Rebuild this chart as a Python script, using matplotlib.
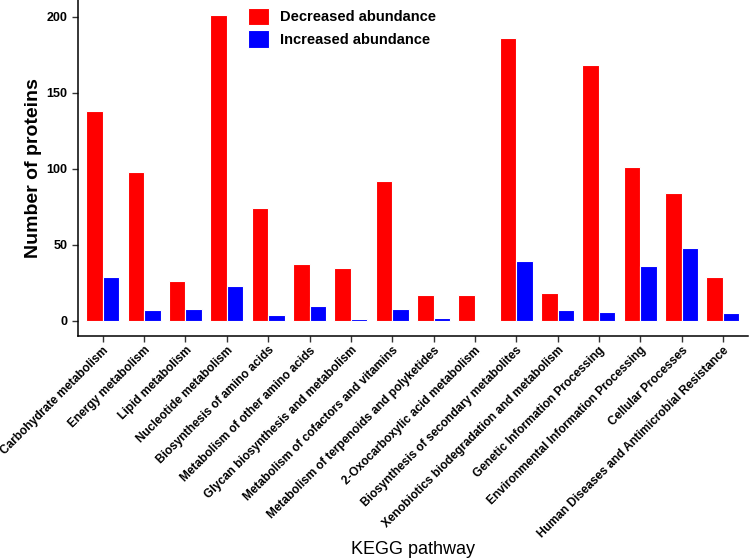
import matplotlib
matplotlib.use('Agg')
import matplotlib.pyplot as plt
import matplotlib.transforms as mtransforms
import numpy as np

plt.rcParams['font.family'] = ['Liberation Sans', 'DejaVu Sans']

# KEGG pathway categories
pathways = ['Carbohydrate metabolism', 'Energy metabolism', 'Lipid metabolism',
            'Nucleotide metabolism', 'Biosynthesis of amino acids',
            'Metabolism of other amino acids', 'Glycan biosynthesis and metabolism',
            'Metabolism of cofactors and vitamins',
            'Metabolism of terpenoids and polyketides',
            '2-Oxocarboxylic acid metabolism',
            'Biosynthesis of secondary metabolites',
            'Xenobiotics biodegradation and metabolism',
            'Genetic Information Processing',
            'Environmental Information Processing', 'Cellular Processes',
            'Human Diseases and Antimicrobial Resistance']
decreased = [138, 98, 26, 201, 74, 37, 35, 92, 17, 17, 186, 18, 168, 101, 84, 29]
increased = [29, 7, 8, 23, 4, 10, 1, 8, 2, 0, 39, 7, 6, 36, 48, 5]

fig = plt.figure(figsize=(7.5, 5.6), dpi=100)
ax = fig.add_axes([0.104, 0.4, 0.893, 0.6])

x = np.arange(len(pathways))
w = 0.4
ax.bar(x - w / 2, decreased, w, color='#ff0000', edgecolor='white',
       linewidth=0.8, label='Decreased abundance')
ax.bar(x + w / 2, increased, w, color='#0000ff', edgecolor='white',
       linewidth=0.8, label='Increased abundance')

ax.set_xlim(-0.6, len(pathways) - 0.4)
ax.set_ylim(-10.05, 211.05)
ax.set_yticks([0, 50, 100, 150, 200])
ax.set_xticks(x)
ax.set_xticklabels(pathways, rotation=45, ha='right', rotation_mode='anchor',
                   fontsize=8.6, fontweight='bold')
# nudge rotated labels a bit to the right, like ggplot's hjust/vjust
shift = mtransforms.ScaledTranslation(4 / 100, 0, fig.dpi_scale_trans)
for lab in ax.get_xticklabels():
    lab.set_transform(lab.get_transform() + shift)
for lab in ax.get_yticklabels():
    lab.set_fontweight('bold')
    lab.set_fontsize(9)
ax.tick_params(axis='both', direction='out', length=4, width=1, color='#333333')
ax.tick_params(axis='x', pad=2)

for s in ['top', 'right']:
    ax.spines[s].set_visible(False)
ax.spines['left'].set_linewidth(1.1)
ax.spines['bottom'].set_linewidth(1.1)

ax.set_ylabel('Number of proteins', fontsize=14, fontweight='bold', labelpad=3)
fig.text(0.55, 0.01, 'KEGG pathway', fontsize=13, ha='center')

leg = ax.legend(loc='upper left', bbox_to_anchor=(248 / 750, 1 - 8 / 560),
                bbox_transform=fig.transFigure, frameon=False,
                borderpad=0, borderaxespad=0,
                prop={'weight': 'bold', 'size': 10.5}, handlelength=1.45,
                handleheight=1.45, labelspacing=0.35, handletextpad=0.75)

fig.savefig('out.png', dpi=100)
